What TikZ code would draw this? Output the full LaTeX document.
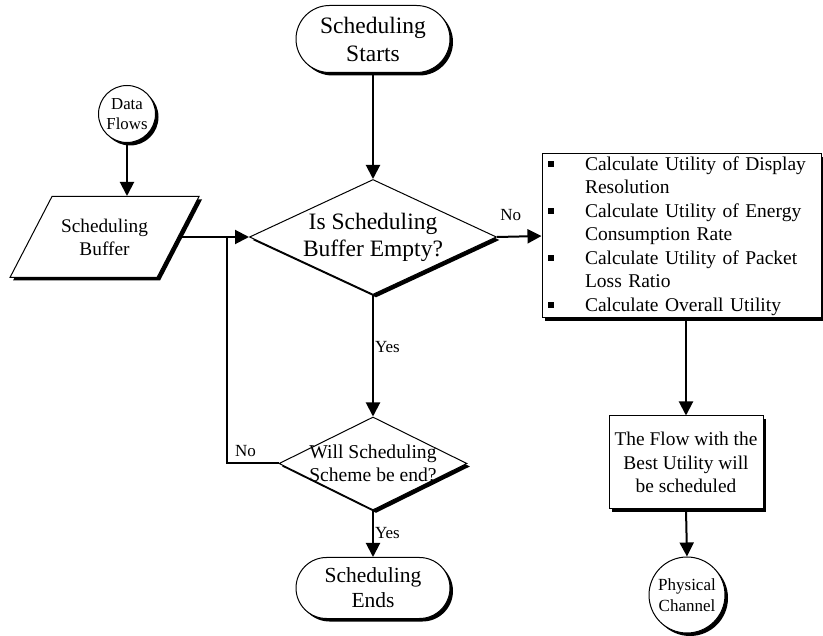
\documentclass[tikz,border=0pt]{standalone}
\usepackage{fontspec}
\setmainfont{Liberation Serif}
\usetikzlibrary{shapes.geometric,shadows,arrows.meta}
\newcommand{\fsz}[2]{\fontsize{#1}{#2}\selectfont}
\newcommand{\bl}{\makebox[37pt][l]{\raisebox{3pt}{\rule{6pt}{6pt}}}}
\newcommand{\ind}{\hspace*{37pt}}
\begin{document}
\begin{tikzpicture}[x=1pt,y=1pt,
  shad/.style={drop shadow={shadow xshift=3pt,shadow yshift=-3pt,opacity=1,fill=black}},
  shapeline/.style={draw=black,line width=1pt,fill=white,shad,inner sep=0pt},
  term/.style={shapeline,rectangle,align=center},
  dia/.style={shapeline,diamond},
  circ/.style={shapeline,circle},
  para/.style={shapeline,trapezium,trapezium left angle=62.6,trapezium right angle=117.4,
    trapezium stretches body=true,text height=40.5pt,text depth=40.5pt,minimum width=189pt},
  boxx/.style={shapeline,rectangle,align=center},
  intext/.style={align=center,inner sep=0pt},
  arr/.style={line width=2pt,-{Triangle[length=14pt,width=14pt]}},
  ln/.style={line width=2pt},
  lbl/.style={font=\fsz{17}{20},inner sep=0pt}
]
\useasboundingbox (0,0) rectangle (823,-636);

% nodes
\node[term,rounded corners=33.5pt,minimum width=154pt,minimum height=67pt,font=\fsz{23.5}{28}]
  (start) at (373,-39) {Scheduling\\Starts};
\node[dia,minimum width=247pt,minimum height=115pt,
  label={[intext,font=\fsz{23.5}{27}]center:{Is Scheduling\\Buffer Empty?}}]
  (d1) at (373,-237) {};
\node[circ,minimum size=57pt,
  label={[intext,font=\fsz{16.8}{20}]center:{Data\\Flows}}]
  (df) at (127,-114) {};
\node[para,label={[intext,font=\fsz{19.3}{23}]center:{Scheduling\\Buffer}}]
  (buf) at (104.5,-237) {};
\coordinate (j) at (227,-237);
\node[dia,minimum width=188pt,minimum height=93pt,
  label={[intext,font=\fsz{19.6}{23}]center:{Will Scheduling\\Scheme be end?}}]
  (d2) at (373,-463.5) {};
\node[term,rounded corners=30.5pt,minimum width=154pt,minimum height=61pt,font=\fsz{21.5}{25}]
  (ends) at (373,-588) {Scheduling\\Ends};
\node[shapeline,rectangle,align=left,text width=267pt,inner xsep=6pt,minimum height=164pt,
  font=\fsz{19.5}{23.5}] (calc) at (681.5,-236) {%
\bl Calculate Utility of Display\\ \ind Resolution\\
\bl Calculate Utility of Energy\\ \ind Consumption Rate\\
\bl Calculate Utility of Packet\\ \ind Loss Ratio\\
\bl Calculate Overall Utility};
\node[boxx,minimum width=154pt,minimum height=93pt,font=\fsz{19.4}{23.5}]
  (best) at (686,-462.5) {The Flow with the\\Best Utility will\\be scheduled};
\node[circ,minimum size=76pt,
  label={[intext,font=\fsz{17}{21}]center:{Physical\\Channel}}]
  (pc) at (687,-595) {};

% connectors
\draw[arr] (start.south) -- (d1.north);
\draw[arr] (df.south) -- (df.south |- buf.north);
\draw[arr] (buf.east) -- (d1.west);
\draw[ln] (d2.west) -- node[lbl,pos=0.64,yshift=12pt]{No} (d2.west -| j) -- (j);
\draw[arr] (d1.south) -- node[lbl,right,pos=0.43,xshift=1pt]{Yes} (d2.north);
\draw[arr] (d2.south) -- node[lbl,right,pos=0.49,xshift=1pt]{Yes} (ends.north);
\draw[arr] (d1.east) -- node[lbl,pos=0.31,yshift=22pt]{No} (calc.west);
\draw[arr] (best.north |- calc.south) -- (best.north);
\draw[arr] (best.south) -- (pc.north);
\end{tikzpicture}
\end{document}
